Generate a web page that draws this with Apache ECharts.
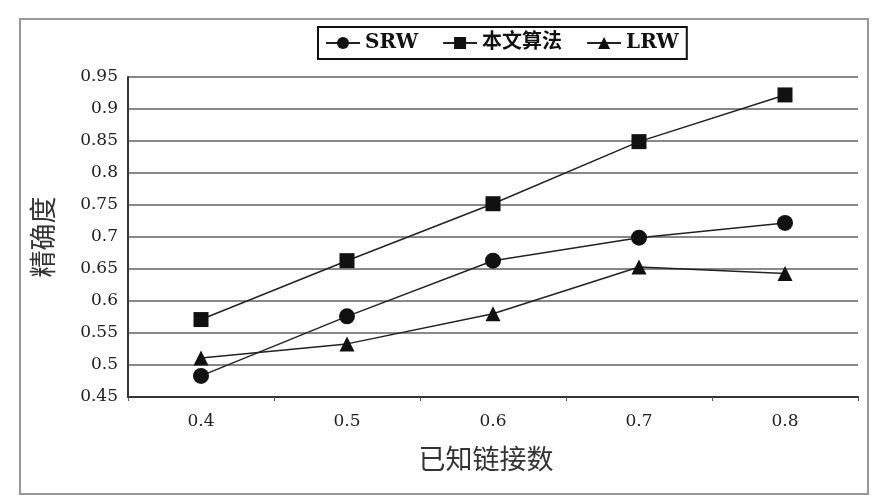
<!DOCTYPE html>
<html><head><meta charset="utf-8">
<script src="https://cdn.jsdelivr.net/npm/echarts@6/dist/echarts.min.js"></script>
<style>html,body{margin:0;padding:0;background:#fff}#c{width:873px;height:500px}</style>
</head><body><div id="c"></div>
<script>
var categories = ['0.4', '0.5', '0.6', '0.7', '0.8'];
var srw = [0.483, 0.576, 0.663, 0.699, 0.722];
var ours = [0.571, 0.663, 0.752, 0.849, 0.922];
var lrw = [0.511, 0.533, 0.580, 0.653, 0.643];
var seriesNames = ['SRW', '本文算法', 'LRW'];

var chart = echarts.init(document.getElementById('c'));
var serifFont = '"DejaVu Serif", "Liberation Serif", "Noto Sans CJK SC", serif';
function mk(name, data, symbol, size) {
  return {
    name: name, type: 'line', data: data, symbol: symbol, symbolSize: size,
    lineStyle: {color: '#222', width: 1.5},
    itemStyle: {color: '#111'},
    emphasis: {disabled: true}
  };
}
chart.setOption({
  animation: false,
  graphic: [{type: 'rect', shape: {x: 20, y: 19, width: 848, height: 475},
    style: {fill: 'none', stroke: '#999', lineWidth: 2}}],
  legend: {
    data: seriesNames, top: 27, left: 318,
    itemWidth: 34, itemHeight: 15, itemGap: 24,
    padding: [6, 8, 6, 7],
    borderColor: '#111', borderWidth: 2,
    textStyle: {fontFamily: serifFont, fontSize: 20, fontWeight: 'bold', color: '#111'}
  },
  grid: {left: 128, right: 15, top: 77, bottom: 103},
  xAxis: {
    type: 'category', data: categories, boundaryGap: true,
    name: '已知链接数', nameLocation: 'middle', nameGap: 48,
    nameTextStyle: {fontFamily: '"Noto Sans CJK SC"', fontSize: 27, color: '#333', padding: [0, 14, 0, 0]},
    axisLine: {lineStyle: {color: '#333', width: 2}},
    axisTick: {show: true, length: 4, lineStyle: {color: '#555'}},
    axisLabel: {fontFamily: serifFont, fontSize: 17, color: '#222', margin: 16}
  },
  yAxis: {
    type: 'value', min: 0.45, max: 0.95, interval: 0.05,
    name: '精确度', nameLocation: 'middle', nameGap: 72,
    nameTextStyle: {fontFamily: '"Noto Sans CJK SC"', fontSize: 27, color: '#333'},
    axisLine: {show: true, lineStyle: {color: '#333', width: 2}},
    axisTick: {show: false},
    splitLine: {lineStyle: {color: '#888', width: 2}},
    axisLabel: {fontFamily: serifFont, fontSize: 17, color: '#222', margin: 10}
  },
  series: [
    mk('SRW', srw, 'circle', 16),
    mk('本文算法', ours, 'rect', 15),
    mk('LRW', lrw, 'triangle', 15)
  ]
});
</script></body></html>
